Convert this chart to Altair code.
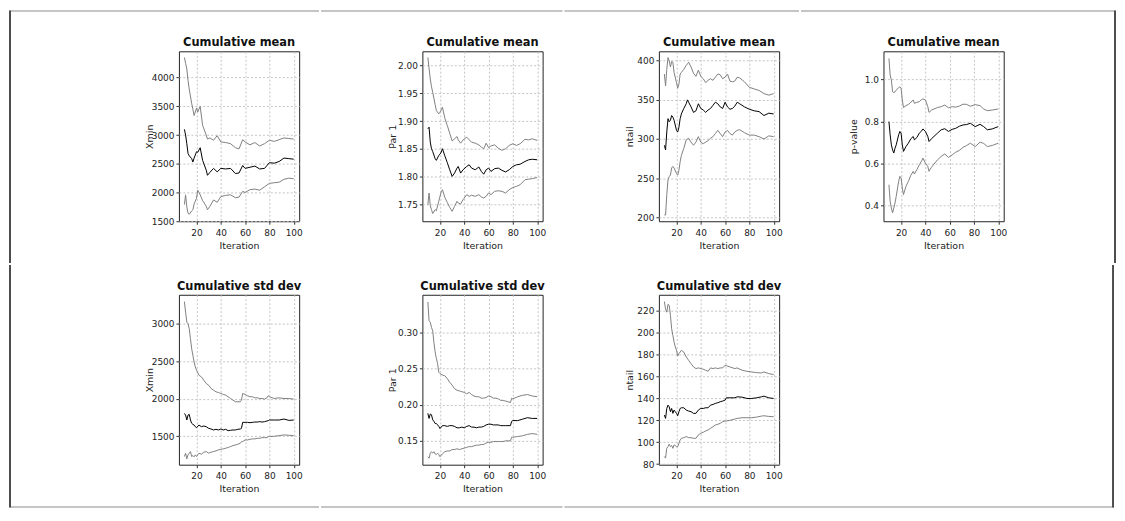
import altair as alt
import pandas as pd

# ---------------- data ----------------
# Panel 1: Cumulative mean, Xmin
IT1 = [10, 11, 12, 13, 14, 16, 17, 18, 20, 21, 23, 25, 28, 29, 31, 34, 37, 40, 44, 48,
       52, 55, 58, 60, 64, 68, 72, 76, 80, 84, 88, 92, 96, 100]
XMIN_MEAN_UP = [4350, 4250, 4150, 3950, 3800, 3550, 3450, 3340, 3470, 3400, 3500, 3170, 3000, 2930,
                2950, 2910, 2990, 2880, 2870, 2850, 2780, 2760, 2920, 2880, 2830, 2870, 2810, 2850,
                2910, 2890, 2920, 2950, 2940, 2930]
XMIN_MEAN_MID = [3100, 3000, 2850, 2680, 2640, 2590, 2530, 2600, 2710, 2700, 2780, 2560, 2390, 2300,
                 2350, 2420, 2360, 2420, 2410, 2420, 2330, 2340, 2470, 2420, 2440, 2460, 2410, 2420,
                 2520, 2510, 2540, 2600, 2590, 2580]
XMIN_MEAN_LO = [1790, 1960, 1750, 1640, 1620, 1680, 1700, 1800, 1900, 2040, 1960, 1860, 1760, 1700,
                1760, 1870, 1830, 1930, 1950, 1960, 1910, 1920, 2020, 2000, 2050, 2060, 2040, 2100,
                2160, 2170, 2180, 2230, 2250, 2240]

# Panel 2: Cumulative mean, Par 1
IT2 = [10, 11, 12, 13, 14, 16, 17, 19, 20, 21, 22, 24, 26, 28, 30, 32, 34, 35, 37, 39, 42, 44,
       46, 49, 52, 54, 56, 58, 60, 62, 65, 68, 71, 74, 77, 80, 83, 86, 90, 93, 96, 100]
PAR_MEAN_UP = [2.015, 1.995, 1.976, 1.962, 1.952, 1.930, 1.919, 1.913, 1.916, 1.920, 1.925, 1.905,
               1.892, 1.878, 1.864, 1.868, 1.872, 1.866, 1.860, 1.866, 1.871, 1.866, 1.862, 1.860,
               1.857, 1.853, 1.850, 1.860, 1.852, 1.855, 1.857, 1.851, 1.847, 1.850, 1.856, 1.859,
               1.856, 1.859, 1.867, 1.866, 1.868, 1.865]
PAR_MEAN_MID = [1.886, 1.889, 1.862, 1.850, 1.845, 1.832, 1.829, 1.838, 1.840, 1.844, 1.850, 1.837,
                1.825, 1.812, 1.800, 1.806, 1.815, 1.818, 1.806, 1.812, 1.818, 1.821, 1.815, 1.812,
                1.817, 1.809, 1.804, 1.812, 1.815, 1.809, 1.814, 1.815, 1.811, 1.808, 1.812, 1.818,
                1.821, 1.822, 1.827, 1.830, 1.831, 1.830]
PAR_MEAN_LO = [1.749, 1.770, 1.747, 1.740, 1.733, 1.740, 1.738, 1.755, 1.764, 1.772, 1.776, 1.762,
               1.753, 1.744, 1.737, 1.746, 1.755, 1.752, 1.750, 1.758, 1.767, 1.764, 1.766, 1.764,
               1.767, 1.763, 1.761, 1.764, 1.770, 1.767, 1.773, 1.774, 1.773, 1.770, 1.776, 1.780,
               1.782, 1.785, 1.794, 1.795, 1.796, 1.798]

# Panel 3: Cumulative mean, ntail
IT3 = [10, 11, 12, 13, 14, 15, 16, 17, 18, 20, 21, 22, 23, 24, 26, 28, 29, 30, 32, 34, 36, 38,
       40, 42, 44, 46, 48, 50, 52, 54, 56, 58, 60, 62, 64, 66, 68, 70, 72, 76, 80, 84, 88, 92,
       96, 100]
NTAIL_MEAN_UP = [383, 368, 389, 404, 400, 392, 399, 398, 385, 372, 365, 370, 383, 385, 389, 394,
                 396, 398, 392, 384, 380, 388, 380, 377, 372, 375, 377, 375, 379, 383, 382, 377,
                 379, 383, 374, 373, 374, 379, 378, 373, 366, 364, 362, 358, 356, 358]
NTAIL_MEAN_MID = [292, 286, 309, 326, 322, 324, 330, 328, 324, 311, 309, 315, 326, 332, 339, 345,
                  350, 347, 341, 334, 336, 345, 339, 337, 334, 337, 339, 343, 347, 345, 341, 339,
                  347, 341, 338, 339, 342, 347, 345, 341, 338, 336, 335, 330, 333, 332]
NTAIL_MEAN_LO = [203, 203, 229, 248, 252, 254, 263, 265, 263, 256, 254, 260, 271, 279, 288, 299,
                 300, 301, 296, 292, 296, 303, 296, 294, 296, 298, 301, 303, 307, 311, 307, 303,
                 309, 311, 307, 305, 309, 311, 312, 308, 305, 305, 303, 300, 304, 303]

# Panel 4: Cumulative mean, p-value
IT4 = [10, 11, 12, 13, 14, 15, 16, 18, 19, 20, 21, 22, 24, 26, 28, 30, 31, 33, 35, 37, 38, 40,
       42, 43, 45, 50, 53, 56, 59, 62, 65, 68, 71, 74, 77, 81, 85, 88, 91, 95, 100]
PV_MEAN_UP = [1.100, 1.021, 0.997, 0.941, 0.937, 0.941, 0.949, 0.961, 0.965, 0.957, 0.902, 0.866,
              0.875, 0.881, 0.891, 0.902, 0.886, 0.891, 0.894, 0.905, 0.907, 0.902, 0.870, 0.843,
              0.854, 0.866, 0.870, 0.878, 0.865, 0.870, 0.868, 0.873, 0.882, 0.881, 0.872, 0.880,
              0.875, 0.859, 0.851, 0.854, 0.859]
PV_MEAN_MID = [0.799, 0.736, 0.688, 0.664, 0.649, 0.672, 0.688, 0.736, 0.752, 0.744, 0.688, 0.657,
               0.680, 0.696, 0.717, 0.728, 0.712, 0.723, 0.744, 0.755, 0.764, 0.752, 0.728, 0.704,
               0.717, 0.744, 0.760, 0.765, 0.752, 0.762, 0.767, 0.777, 0.783, 0.785, 0.791, 0.775,
               0.786, 0.775, 0.760, 0.764, 0.775]
PV_MEAN_LO = [0.498, 0.419, 0.387, 0.364, 0.387, 0.411, 0.443, 0.514, 0.538, 0.530, 0.482, 0.451,
              0.490, 0.514, 0.543, 0.562, 0.549, 0.570, 0.593, 0.612, 0.625, 0.601, 0.585, 0.562,
              0.581, 0.617, 0.633, 0.645, 0.628, 0.640, 0.653, 0.662, 0.676, 0.685, 0.696, 0.680,
              0.701, 0.695, 0.680, 0.685, 0.696]

# Panel 5: Cumulative std dev, Xmin
IT5 = [10, 11, 12, 13, 14, 15, 16, 17, 18, 19, 20, 22, 24, 26, 28, 30, 32, 34, 36, 38, 40, 42,
       44, 46, 48, 50, 52, 54, 56, 57, 58, 60, 62, 64, 66, 68, 70, 72, 74, 76, 78, 79, 80, 84,
       88, 92, 96, 100]
XMIN_SD_UP = [3296, 3155, 3022, 3000, 2934, 2801, 2668, 2580, 2491, 2425, 2381, 2314, 2292, 2248,
              2204, 2181, 2137, 2115, 2093, 2084, 2071, 2058, 2049, 2027, 2004, 1982, 1960, 1960,
              1960, 1982, 2071, 2058, 2040, 2027, 2027, 2013, 2013, 2004, 2004, 1996, 2013, 2040,
              2027, 2004, 2013, 2004, 2004, 1996]
XMIN_SD_MID = [1805, 1783, 1717, 1783, 1792, 1717, 1673, 1659, 1650, 1628, 1615, 1650, 1628, 1637,
               1628, 1606, 1597, 1584, 1593, 1584, 1597, 1584, 1593, 1575, 1580, 1584, 1584, 1593,
               1597, 1606, 1686, 1686, 1686, 1681, 1686, 1690, 1690, 1695, 1690, 1695, 1704, 1708,
               1717, 1717, 1717, 1730, 1712, 1717]
XMIN_SD_LO = [1230, 1274, 1199, 1252, 1274, 1296, 1230, 1243, 1226, 1252, 1230, 1274, 1261, 1288,
              1296, 1274, 1288, 1296, 1305, 1319, 1327, 1332, 1341, 1350, 1363, 1376, 1385, 1394,
              1407, 1429, 1429, 1451, 1451, 1460, 1465, 1465, 1473, 1473, 1482, 1482, 1482, 1496,
              1496, 1500, 1509, 1518, 1513, 1509]

# Panel 6: Cumulative std dev, Par 1
IT6 = [10, 11, 12, 13, 14, 15, 16, 17, 18, 19, 20, 22, 24, 26, 28, 30, 32, 34, 36, 38, 40, 42,
       44, 46, 48, 50, 52, 54, 56, 58, 60, 62, 64, 66, 68, 70, 72, 74, 76, 78, 79, 80, 84, 88,
       92, 96, 100]
PAR_SD_UP = [0.342, 0.316, 0.314, 0.307, 0.302, 0.286, 0.273, 0.264, 0.257, 0.245, 0.243, 0.241,
             0.240, 0.236, 0.231, 0.227, 0.222, 0.220, 0.219, 0.218, 0.217, 0.215, 0.217, 0.214,
             0.212, 0.211, 0.211, 0.209, 0.209, 0.210, 0.212, 0.211, 0.209, 0.209, 0.208, 0.206,
             0.206, 0.205, 0.204, 0.203, 0.209, 0.208, 0.211, 0.213, 0.214, 0.212, 0.211]
PAR_SD_MID = [0.188, 0.181, 0.187, 0.186, 0.179, 0.177, 0.174, 0.174, 0.172, 0.170, 0.167, 0.171,
              0.171, 0.170, 0.171, 0.171, 0.170, 0.168, 0.168, 0.169, 0.168, 0.170, 0.171, 0.169,
              0.169, 0.168, 0.169, 0.169, 0.170, 0.172, 0.173, 0.173, 0.172, 0.172, 0.172, 0.171,
              0.171, 0.171, 0.171, 0.171, 0.177, 0.178, 0.178, 0.180, 0.182, 0.181, 0.181]
PAR_SD_LO = [0.128, 0.126, 0.133, 0.135, 0.133, 0.135, 0.132, 0.131, 0.133, 0.131, 0.128, 0.132,
             0.135, 0.136, 0.136, 0.138, 0.138, 0.139, 0.138, 0.139, 0.140, 0.141, 0.142, 0.142,
             0.143, 0.144, 0.144, 0.145, 0.145, 0.147, 0.148, 0.148, 0.149, 0.149, 0.149, 0.149,
             0.149, 0.150, 0.150, 0.150, 0.155, 0.155, 0.156, 0.157, 0.159, 0.160, 0.159]

# Panel 7: Cumulative std dev, ntail
IT7 = [10, 11, 12, 13, 14, 15, 16, 17, 18, 19, 20, 21, 22, 23, 24, 26, 28, 30, 32, 34, 36, 38,
       40, 42, 44, 46, 48, 50, 52, 54, 56, 58, 60, 61, 64, 68, 70, 74, 78, 82, 86, 90, 92, 96, 100]
NTAIL_SD_UP = [228.5, 221.8, 218.8, 226.0, 225.0, 215.8, 203.6, 197.6, 191.5, 187.0, 184.0, 178.8,
               181.0, 182.4, 184.0, 182.4, 177.9, 174.8, 171.8, 168.8, 167.3, 167.9, 167.3, 166.7,
               165.8, 164.8, 167.9, 167.3, 167.9, 167.3, 167.9, 167.9, 170.3, 170.0, 168.8, 167.3,
               167.9, 165.8, 164.8, 164.2, 163.6, 163.3, 164.2, 162.7, 161.8]
NTAIL_SD_MID = [124.8, 121.8, 130.9, 133.9, 132.4, 127.9, 130.9, 126.4, 129.4, 127.9, 126.4, 124.2,
                127.9, 130.9, 131.5, 131.5, 129.4, 128.5, 127.9, 126.4, 126.4, 129.4, 130.9, 130.9,
                131.5, 131.5, 133.9, 134.5, 135.5, 136.1, 137.0, 137.6, 138.5, 140.6, 140.6, 140.6,
                141.5, 141.2, 140.0, 140.0, 140.6, 141.5, 142.1, 140.6, 140.0]
NTAIL_SD_LO = [87.0, 85.5, 94.5, 96.0, 98.2, 96.0, 97.0, 94.5, 97.6, 97.0, 96.0, 96.0, 99.1, 102.1,
               103.6, 104.2, 105.2, 104.2, 104.2, 103.6, 103.6, 106.7, 108.2, 109.1, 110.3, 111.2,
               112.7, 114.2, 115.8, 116.4, 117.3, 118.8, 119.4, 119.4, 120.0, 121.2, 121.8, 122.4,
               122.4, 122.4, 123.0, 123.9, 124.2, 123.6, 123.3]

X_TICKS = [20, 40, 60, 80, 100]

# ---------------- styling / layout ----------------
W, H = 121, 171
BAND = "#808080"
MEAN = "#000000"
FRAME_LIGHT = "#8c8c8c"
FRAME_DARK = "#4d4d4d"
FONT = "DejaVu Sans"


def make_df(it, up, mid, lo):
    rows = []
    for name, vals in (("upper", up), ("lower", lo), ("mean", mid)):
        for i, v in zip(it, vals):
            rows.append({"iteration": i, "value": v, "series": name})
    return pd.DataFrame(rows)


def frame_rect(x1, x2, y1, y2, color):
    return alt.Chart(pd.DataFrame({"k": [0]})).mark_rect(color=color).encode(
        x=alt.value(x1), x2=alt.value(x2), y=alt.value(y1), y2=alt.value(y2)
    )


def title_text(text):
    return alt.Chart(pd.DataFrame({"k": [0]})).mark_text(
        font=FONT, fontSize=11.5, fontWeight="bold", color="#111111",
        align="center", baseline="alphabetic",
    ).encode(x=alt.value(W / 2), y=alt.value(-5), text=alt.value(text))


def panel(it, up, mid, lo, title, ytitle, ydomain, yticks, yfmt, frames):
    df = make_df(it, up, mid, lo)
    lines = alt.Chart(df).mark_line(strokeWidth=1).encode(
        x=alt.X("iteration:Q",
                scale=alt.Scale(domain=[5.5, 104.5], nice=False, zero=False),
                axis=alt.Axis(values=X_TICKS, format="d", title="Iteration")),
        y=alt.Y("value:Q",
                scale=alt.Scale(domain=ydomain, nice=False, zero=False),
                axis=alt.Axis(values=yticks, format=yfmt, title=ytitle)),
        color=alt.Color("series:N",
                        scale=alt.Scale(domain=["upper", "lower", "mean"],
                                        range=[BAND, BAND, MEAN]),
                        legend=None),
    )
    layers = [lines, title_text(title)] + [frame_rect(*f) for f in frames]
    return alt.layer(*layers).properties(width=W, height=H)


p1 = panel(IT1, XMIN_MEAN_UP, XMIN_MEAN_MID, XMIN_MEAN_LO, "Cumulative mean", "Xmin",
           [1500, 4458], [1500, 2000, 2500, 3000, 3500, 4000], "d",
           [(-171, 141, -41, -40, FRAME_LIGHT), (-171, -169, -41, 213, FRAME_DARK)])
p2 = panel(IT2, PAR_MEAN_UP, PAR_MEAN_MID, PAR_MEAN_LO, "Cumulative mean", "Par 1",
           [1.719, 2.026], [1.75, 1.80, 1.85, 1.90, 1.95, 2.00], ".2f",
           [(-102, 141, -41, -40, FRAME_LIGHT)])
p3 = panel(IT3, NTAIL_MEAN_UP, NTAIL_MEAN_MID, NTAIL_MEAN_LO, "Cumulative mean", "ntail",
           [195, 412], [200, 250, 300, 350, 400], "d",
           [(-95, 141, -41, -40, FRAME_LIGHT)])
p4 = panel(IT4, PV_MEAN_UP, PV_MEAN_MID, PV_MEAN_LO, "Cumulative mean", "p-value",
           [0.324, 1.134], [0.4, 0.6, 0.8, 1.0], ".1f",
           [(-83, 234, -41, -40, FRAME_LIGHT), (232, 234, -41, 213, FRAME_DARK)])
p5 = panel(IT5, XMIN_SD_UP, XMIN_SD_MID, XMIN_SD_LO, "Cumulative std dev", "Xmin",
           [1121, 3387], [1500, 2000, 2500, 3000], "d",
           [(-171, 141, 213, 214, FRAME_LIGHT), (-171, -169, -30, 214, FRAME_DARK)])
p6 = panel(IT6, PAR_SD_UP, PAR_SD_MID, PAR_SD_LO, "Cumulative std dev", "Par 1",
           [0.117, 0.352], [0.15, 0.20, 0.25, 0.30], ".2f",
           [(-102, 141, 213, 214, FRAME_LIGHT), (0, 1, -30, -29, "#ffffff")])
p7 = panel(IT7, NTAIL_SD_UP, NTAIL_SD_MID, NTAIL_SD_LO, "Cumulative std dev", "ntail",
           [79.5, 234.7], [80, 100, 120, 140, 160, 180, 200, 220], "d",
           [(-95, 458, 213, 214, FRAME_LIGHT), (456, 458, -30, 214, FRAME_DARK)])

row1 = alt.hconcat(p1, p2, p3, p4, spacing=0)
row2 = alt.hconcat(p5, p6, p7, spacing=0)

chart = alt.vconcat(row1, row2, spacing=0).properties(
    padding=0, background="#ffffff"
).configure_view(
    stroke="#222222", strokeWidth=1
).configure_axis(
    labelFont=FONT, labelFontSize=9, labelColor="#222222",
    titleFont=FONT, titleFontSize=9.5, titleFontWeight="normal", titleColor="#222222",
    grid=True, gridDash=[2, 2], gridColor="#c4c4c4", gridWidth=1,
    tickSize=3, tickColor="#333333", domain=False,
    labelFlush=False, labelOverlap=False,
).configure_axisY(
    labelPadding=2, minExtent=20, maxExtent=20, titlePadding=5, titleAngle=270,
    titleBaseline="bottom",
).configure_axisX(
    labelPadding=4, titlePadding=3,
)

chart.save("out.html", embed_options={"renderer": "svg", "actions": False})
